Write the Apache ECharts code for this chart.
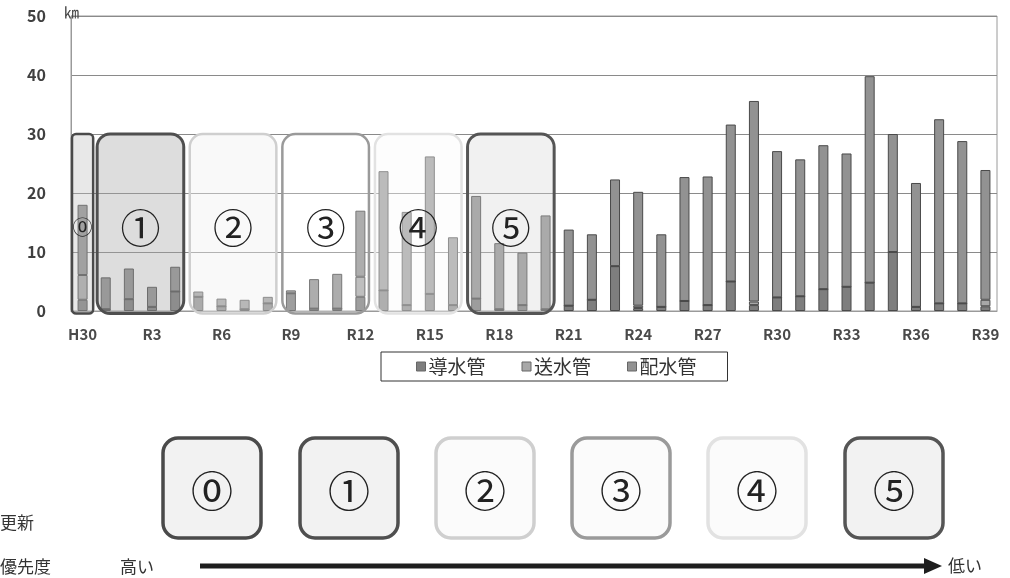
<!DOCTYPE html>
<html>
<head>
<meta charset="utf-8">
<script src="https://cdn.jsdelivr.net/npm/echarts@6/dist/echarts.min.js"></script>
<style>
  html, body { margin: 0; padding: 0; background: #fff; }
  #chart { width: 1010px; height: 578px; }
</style>
</head>
<body>
<div id="chart"></div>
<script>
// Fiscal years: H30 then Reiwa 1 to 39
const years = ['H30','R1','R2','R3','R4','R5','R6','R7','R8','R9','R10',
  'R11','R12','R13','R14','R15','R16','R17','R18','R19','R20',
  'R21','R22','R23','R24','R25','R26','R27','R28','R29','R30',
  'R31','R32','R33','R34','R35','R36','R37','R38','R39'];

// Length of pipes due for renewal (km)
const dosui = [1.9,0.3,2.0,0.7,3.3,2.4,0.8,0.3,1.3,3.0,0.4,
  0.4,2.4,3.5,1.0,2.9,1.0,2.1,0.3,1.0,0.3,
  0.9,1.9,7.6,0.5,0.7,1.7,1.0,5.0,1.0,2.3,
  2.5,3.7,4.1,4.8,10.0,0.7,1.3,1.3,0.8];
const sosui = [4.2,0,0,0,0,0,0,0,0,0,0,
  0,3.4,0,0,0,0,0,0,0,0,
  0,0,0,0.4,0,0,0,0,0.6,0,
  0,0,0,0,0,0,0,0,1.1];
const haisui = [11.9,5.4,5.2,3.4,4.2,0.9,1.3,1.6,1.1,0.5,5.0,
  5.9,11.2,20.2,15.8,23.3,11.5,17.4,11.2,8.9,15.9,
  12.9,11.1,14.7,19.3,12.3,21.0,21.8,26.6,34.0,24.8,
  23.2,24.4,22.6,35.0,20.0,21.0,31.2,27.5,22.0];

const seriesNames = ['導水管','送水管','配水管'];
const yTicks = [0, 10, 20, 30, 40, 50];

// Renewal priority groups: [label, first year, last year]
const groups = [
  ['⓪','H30','H30'],
  ['①','R1','R4'],
  ['②','R5','R8'],
  ['③','R9','R12'],
  ['④','R13','R16'],
  ['⑤','R17','R20']
];
const groupTop = 30;

const groupStyle = [
  { stroke: '#4a4a4a', fill: 'rgba(190,190,190,0.35)', lw: 2.5, r: 4, fs: 20 },
  { stroke: '#4f4f4f', fill: 'rgba(165,165,165,0.38)', lw: 3, r: 13, fs: 40 },
  { stroke: '#cfcfcf', fill: 'rgba(240,240,240,0.4)', lw: 2.5, r: 13, fs: 40 },
  { stroke: '#9a9a9a', fill: 'rgba(255,255,255,0.25)', lw: 2.5, r: 13, fs: 40 },
  { stroke: '#e2e2e2', fill: 'rgba(250,250,250,0.4)', lw: 2.5, r: 13, fs: 40 },
  { stroke: '#555555', fill: 'rgba(215,215,215,0.35)', lw: 3, r: 13, fs: 40 }
];

const colors = ['#7e7e7e', '#a8a8a8', '#929292'];
const fontCJK = '"Noto Sans CJK JP", "Noto Sans", sans-serif';

const chart = echarts.init(document.getElementById('chart'), null, { renderer: 'canvas' });

function barSeries(name, data, color) {
  return {
    name: name,
    type: 'bar',
    stack: 'len',
    data: data,
    barWidth: 10,
    itemStyle: { color: color, borderColor: '#4a4a4a', borderWidth: 1 }
  };
}

chart.setOption({
  animation: false,
  color: colors,
  grid: { left: 71, right: 13, top: 16, bottom: 267, show: true, borderColor: '#9a9a9a', borderWidth: 1 },
  xAxis: {
    type: 'category',
    data: years,
    axisTick: { show: false },
    axisLine: { lineStyle: { color: '#9a9a9a' } },
    axisLabel: {
      interval: 2, margin: 16, color: '#4a4a4a', fontSize: 15, fontWeight: 'bold',
      fontFamily: fontCJK
    }
  },
  yAxis: {
    type: 'value',
    min: yTicks[0], max: yTicks[yTicks.length - 1], interval: 10,
    axisLine: { show: true, lineStyle: { color: '#9a9a9a' } },
    axisLabel: { margin: 25, color: '#404040', fontSize: 16, fontWeight: 'bold', fontFamily: fontCJK },
    splitLine: { lineStyle: { color: '#8a8a8a', width: 1 } }
  },
  legend: {
    data: seriesNames,
    left: 381, top: 352,
    padding: [5, 31, 5, 35],
    itemGap: 36,
    itemWidth: 9, itemHeight: 9,
    icon: 'rect',
    borderColor: '#333', borderWidth: 1,
    textStyle: { fontSize: 19, color: '#333', fontFamily: fontCJK, padding: [0, 0, 0, -2] },
    itemStyle: { borderColor: '#666', borderWidth: 1 }
  },
  series: [
    barSeries(seriesNames[0], dosui, colors[0]),
    barSeries(seriesNames[1], sosui, colors[1]),
    barSeries(seriesNames[2], haisui, colors[2])
  ]
});

// Overlay boxes marking each priority group, placed from the axis scales
const g = [];
const c0 = chart.convertToPixel({ xAxisIndex: 0 }, years[0]);
const c1 = chart.convertToPixel({ xAxisIndex: 0 }, years[1]);
const band = c1 - c0;
const yTop = chart.convertToPixel({ yAxisIndex: 0 }, groupTop);
const yZero = chart.convertToPixel({ yAxisIndex: 0 }, 0);
groups.forEach(function (grp, i) {
  const st = groupStyle[i];
  const xa = chart.convertToPixel({ xAxisIndex: 0 }, grp[1]) - band / 2 + (i === 0 ? 1 : 3);
  const xb = chart.convertToPixel({ xAxisIndex: 0 }, grp[2]) + band / 2 - (i === 0 ? 1 : 3);
  const yb = yZero + 2.5;
  g.push({
    type: 'rect', z: 50,
    shape: { x: xa, y: yTop, width: xb - xa, height: yb - yTop, r: st.r },
    style: { fill: st.fill, stroke: st.stroke, lineWidth: st.lw }
  });
  g.push({
    type: 'text', z: 51,
    x: (xa + xb) / 2, y: (yTop + yb) / 2 + 4,
    style: {
      text: grp[0], fontSize: st.fs, fontFamily: fontCJK, fill: '#222',
      align: 'center', verticalAlign: 'middle'
    }
  });
});

// Unit label
g.push({
  type: 'text', z: 51, x: 64, y: 20,
  style: { text: '㎞', fontSize: 15, fontFamily: fontCJK, fill: '#444', verticalAlign: 'bottom' }
});

// Priority key below the chart
const keyX = [163, 300, 436, 572, 708, 845];
keyX.forEach(function (x, i) {
  const st = groupStyle[i];
  g.push({
    type: 'rect', z: 50,
    shape: { x: x, y: 438, width: 98, height: 100, r: 15 },
    style: { fill: i === 0 || i === 1 || i === 5 ? '#f2f2f2' : '#fbfbfb', stroke: st.stroke, lineWidth: 3.5 }
  });
  g.push({
    type: 'text', z: 51, x: x + 49, y: 491,
    style: { text: groups[i][0], fontSize: 42, fontFamily: fontCJK, fill: '#222', align: 'center', verticalAlign: 'middle' }
  });
});
const small = { fontSize: 17, fontFamily: fontCJK, fill: '#333', verticalAlign: 'middle' };
g.push({ type: 'text', z: 51, x: 0, y: 523, style: Object.assign({ text: '更新' }, small) });
g.push({ type: 'text', z: 51, x: 0, y: 567, style: Object.assign({ text: '優先度' }, small) });
g.push({ type: 'text', z: 51, x: 120, y: 567, style: Object.assign({ text: '高い' }, small) });
g.push({ type: 'text', z: 51, x: 948, y: 566, style: Object.assign({ text: '低い' }, small) });
g.push({ type: 'line', z: 50, shape: { x1: 200, y1: 566, x2: 926, y2: 566 }, style: { stroke: '#1e1e1e', lineWidth: 5 } });
g.push({ type: 'polygon', z: 50, shape: { points: [[924, 558], [942, 566], [924, 574]] }, style: { fill: '#1e1e1e' } });

chart.setOption({ graphic: g });
</script>
</body>
</html>
